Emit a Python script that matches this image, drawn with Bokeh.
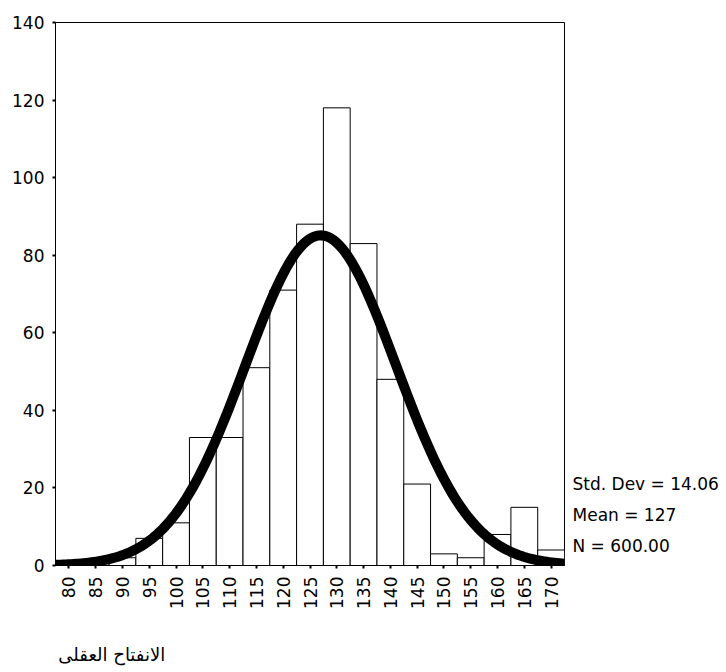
import math
from bokeh.plotting import figure
from bokeh.models import Range1d, FixedTicker, LinearAxis
from bokeh.embed import file_html
from bokeh.resources import INLINE

# Data
bin_centers = [80, 85, 90, 95, 100, 105, 110, 115, 120, 125, 130, 135, 140, 145, 150, 155, 160, 165, 170]
counts = [1, 1, 2, 7, 11, 33, 33, 51, 71, 88, 118, 83, 48, 21, 3, 2, 8, 15, 4]
bin_width = 5
y_ticks = [0, 20, 40, 60, 80, 100, 120, 140]
stat_std = 14.06
stat_mean = 127
stat_n = 600.00
x_title = "الانفتاح العقلى"
stat_labels = ["Std. Dev = 14.06", "Mean = 127", "N = 600.00"]

FONT = "DejaVu Sans"

p = figure(frame_width=509, frame_height=543,
           x_range=Range1d(77.5, 172.5), y_range=Range1d(0, 140),
           output_backend="svg", toolbar_location=None,
           min_border_left=55, min_border_right=160,
           min_border_top=22, min_border_bottom=103)

p.background_fill_color = "white"
p.border_fill_color = "white"
p.outline_line_color = "black"
p.outline_line_width = 1
p.xgrid.visible = False
p.ygrid.visible = False

# bars
lefts = [c - bin_width / 2 for c in bin_centers]
rights = [c + bin_width / 2 for c in bin_centers]
p.quad(left=lefts, right=rights, bottom=0, top=counts,
       fill_color="white", line_color="black", line_width=1)

# fitted normal curve from the displayed statistics
n_pts = 200
xs = [77.5 + i * (172.5 - 77.5) / (n_pts - 1) for i in range(n_pts)]
peak = stat_n * bin_width / (stat_std * math.sqrt(2 * math.pi))
ys = [peak * math.exp(-0.5 * ((x - stat_mean) / stat_std) ** 2) for x in xs]
p.line(xs, ys, line_color="black", line_width=10, line_cap="round", line_join="round")

# axes
for ax in (p.xaxis[0], p.yaxis[0]):
    ax.axis_line_color = "black"
    ax.axis_line_width = 1
    ax.major_tick_line_color = "black"
    ax.major_tick_line_width = 2
    ax.major_tick_out = 3
    ax.major_tick_in = 0
    ax.minor_tick_line_color = None
    ax.major_label_text_font = FONT
    ax.major_label_text_font_size = "17px"
    ax.major_label_text_color = "black"
    ax.major_label_standoff = 8

p.xaxis.ticker = FixedTicker(ticks=bin_centers)
p.xaxis.major_label_orientation = math.pi / 2
p.yaxis.ticker = FixedTicker(ticks=y_ticks)

# statistics text at right, as an unlined axis
stat_pos = [21, 13, 5]
stat_axis = LinearAxis(ticker=FixedTicker(ticks=stat_pos),
                       major_label_overrides={k: t for k, t in zip(stat_pos, stat_labels)},
                       axis_line_color=None, major_tick_line_color=None,
                       minor_tick_line_color=None, major_tick_out=0, major_tick_in=0,
                       major_label_standoff=8, major_label_text_font=FONT,
                       major_label_text_font_size="17px", major_label_text_color="black")
p.add_layout(stat_axis, "right")

# Arabic title at bottom left, as a second unlined axis
title_pos = 88
title_axis = LinearAxis(ticker=FixedTicker(ticks=[title_pos]),
                        major_label_overrides={title_pos: x_title},
                        axis_line_color=None, major_tick_line_color=None,
                        minor_tick_line_color=None, major_tick_out=0, major_tick_in=0,
                        major_label_standoff=32, major_label_text_font=FONT,
                        major_label_text_font_size="18px", major_label_text_color="black")
p.add_layout(title_axis, "below")

open("out.html", "w").write(file_html(p, INLINE))
